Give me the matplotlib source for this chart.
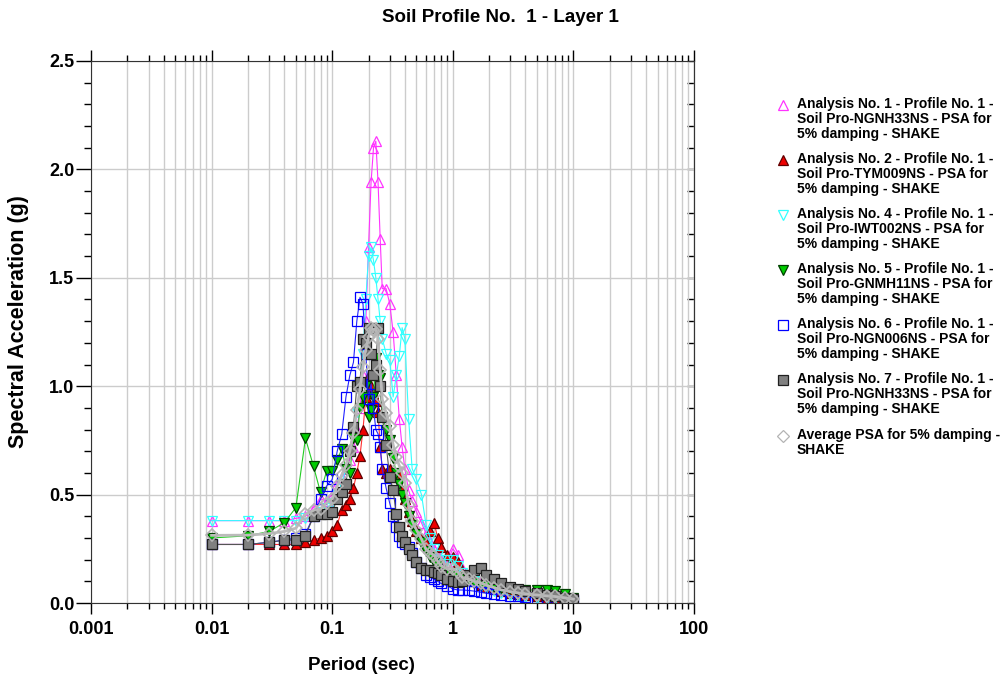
import numpy as np
import matplotlib
matplotlib.use("Agg")
import matplotlib.pyplot as plt
from matplotlib.lines import Line2D
from matplotlib.ticker import LogLocator, FixedLocator, FixedFormatter, MultipleLocator, NullFormatter

plt.rcParams["font.family"] = ["Liberation Sans", "DejaVu Sans"]

# periods (sec)
period = [0.01, 0.02, 0.03, 0.04, 0.05, 0.06, 0.07, 0.08, 0.09, 0.10,
          0.11, 0.12, 0.13, 0.14, 0.15, 0.16, 0.17, 0.18, 0.19, 0.20,
          0.21, 0.22, 0.23, 0.24, 0.25, 0.26, 0.28, 0.30, 0.32, 0.34,
          0.36, 0.38, 0.40, 0.43, 0.46, 0.50, 0.55, 0.60, 0.65, 0.70,
          0.75, 0.80, 0.90, 1.0, 1.1, 1.2, 1.35, 1.5, 1.7, 1.9,
          2.2, 2.5, 3.0, 3.5, 4.0, 5.0, 6.0, 7.0, 8.5, 10.0]

# spectral acceleration (g)
sa_an1 = [0.38, 0.38, 0.38, 0.38, 0.39, 0.40, 0.44, 0.48, 0.47, 0.50,
          0.55, 0.58, 0.62, 0.66, 0.72, 0.80, 0.90, 1.05, 1.30, 1.64,
          1.94, 2.10, 2.13, 1.94, 1.68, 1.45, 1.45, 1.38, 1.25, 1.05,
          0.85, 0.72, 0.62, 0.52, 0.47, 0.42, 0.37, 0.32, 0.28, 0.25,
          0.22, 0.20, 0.19, 0.25, 0.22, 0.16, 0.13, 0.11, 0.10, 0.09,
          0.08, 0.07, 0.06, 0.05, 0.045, 0.04, 0.035, 0.03, 0.025, 0.02]
sa_an2 = [0.27, 0.27, 0.27, 0.27, 0.27, 0.28, 0.29, 0.30, 0.31, 0.33,
          0.36, 0.43, 0.45, 0.48, 0.53, 0.60, 0.68, 0.80, 0.95, 1.05,
          1.00, 0.97, 0.93, 0.88, 0.72, 0.62, 0.60, 0.62, 0.60, 0.58,
          0.60, 0.52, 0.48, 0.42, 0.38, 0.33, 0.30, 0.28, 0.33, 0.37,
          0.30, 0.26, 0.22, 0.21, 0.19, 0.14, 0.12, 0.10, 0.085, 0.075,
          0.065, 0.055, 0.045, 0.04, 0.035, 0.03, 0.025, 0.022, 0.018, 0.015]
sa_an4 = [0.38, 0.38, 0.38, 0.38, 0.38, 0.39, 0.40, 0.42, 0.44, 0.46,
          0.50, 0.55, 0.62, 0.70, 0.78, 0.88, 1.00, 1.15, 1.40, 1.60,
          1.64, 1.58, 1.50, 1.40, 1.30, 1.22, 1.15, 1.12, 0.95, 1.05,
          1.14, 1.27, 1.22, 0.85, 0.62, 0.57, 0.50, 0.36, 0.30, 0.25,
          0.22, 0.20, 0.20, 0.20, 0.17, 0.14, 0.12, 0.10, 0.08, 0.07,
          0.055, 0.045, 0.035, 0.03, 0.027, 0.022, 0.02, 0.018, 0.015, 0.012]
sa_an5 = [0.30, 0.31, 0.33, 0.37, 0.44, 0.76, 0.63, 0.51, 0.61, 0.61,
          0.66, 0.71, 0.62, 0.60, 0.76, 0.75, 0.90, 0.95, 1.00, 0.86,
          0.89, 0.95, 1.13, 1.05, 1.04, 0.86, 0.80, 0.75, 0.67, 0.60,
          0.55, 0.50, 0.46, 0.40, 0.36, 0.32, 0.28, 0.24, 0.21, 0.19,
          0.17, 0.15, 0.14, 0.13, 0.12, 0.11, 0.10, 0.09, 0.085, 0.08,
          0.075, 0.07, 0.065, 0.062, 0.06, 0.06, 0.058, 0.055, 0.04, 0.025]
sa_an6 = [0.27, 0.27, 0.28, 0.29, 0.30, 0.32, 0.40, 0.48, 0.54, 0.57,
          0.70, 0.78, 0.95, 1.05, 1.11, 1.30, 1.41, 1.38, 1.15, 0.94,
          1.01, 0.90, 0.80, 0.78, 0.72, 0.62, 0.53, 0.46, 0.40, 0.35,
          0.31, 0.28, 0.27, 0.26, 0.23, 0.19, 0.16, 0.13, 0.12, 0.11,
          0.10, 0.09, 0.08, 0.065, 0.06, 0.06, 0.058, 0.055, 0.05, 0.045,
          0.04, 0.037, 0.033, 0.03, 0.028, 0.025, 0.022, 0.02, 0.018, 0.015]
sa_an7 = [0.27, 0.27, 0.28, 0.29, 0.29, 0.31, 0.40, 0.41, 0.41, 0.42,
          0.48, 0.51, 0.55, 0.70, 0.81, 1.00, 1.02, 1.22, 1.20, 1.27,
          1.15, 1.05, 1.10, 1.27, 1.00, 0.86, 0.73, 0.58, 0.52, 0.41,
          0.35, 0.31, 0.28, 0.25, 0.22, 0.19, 0.16, 0.15, 0.15, 0.145,
          0.14, 0.13, 0.11, 0.10, 0.095, 0.10, 0.13, 0.15, 0.16, 0.13,
          0.11, 0.09, 0.075, 0.065, 0.055, 0.045, 0.038, 0.032, 0.025, 0.02]
sa_avg = [0.312, 0.313, 0.32, 0.33, 0.345, 0.41, 0.427, 0.433, 0.463, 0.48,
          0.54, 0.59, 0.635, 0.70, 0.785, 0.89, 0.985, 1.09, 1.167, 1.227,
          1.27, 1.26, 1.265, 1.22, 1.077, 0.94, 0.877, 0.818, 0.73, 0.673,
          0.633, 0.60, 0.555, 0.45, 0.38, 0.337, 0.295, 0.247, 0.232, 0.219,
          0.192, 0.172, 0.157, 0.159, 0.143, 0.118, 0.11, 0.10, 0.093, 0.082,
          0.071, 0.061, 0.052, 0.046, 0.042, 0.037, 0.033, 0.03, 0.024, 0.018]

labels = [
    "Analysis No. 1 - Profile No. 1 -\nSoil Pro-NGNH33NS - PSA for\n5% damping - SHAKE",
    "Analysis No. 2 - Profile No. 1 -\nSoil Pro-TYM009NS - PSA for\n5% damping - SHAKE",
    "Analysis No. 4 - Profile No. 1 -\nSoil Pro-IWT002NS - PSA for\n5% damping - SHAKE",
    "Analysis No. 5 - Profile No. 1 -\nSoil Pro-GNMH11NS - PSA for\n5% damping - SHAKE",
    "Analysis No. 6 - Profile No. 1 -\nSoil Pro-NGN006NS - PSA for\n5% damping - SHAKE",
    "Analysis No. 7 - Profile No. 1 -\nSoil Pro-NGNH33NS - PSA for\n5% damping - SHAKE",
    "Average PSA for 5% damping -\nSHAKE",
]

# (data, line colour, marker, face, edge)
series = [
    (sa_an1, "#ff33ff", "^", "none", "#ff33ff"),
    (sa_an2, "#ff3030", "^", "#ee0000", "#600000"),
    (sa_an4, "#33ffff", "v", "none", "#33ffff"),
    (sa_an5, "#22cc22", "v", "#00cc00", "#004000"),
    (sa_an6, "#2222ff", "s", "none", "#0000ff"),
    (sa_an7, "#555555", "s", "#808080", "#202020"),
    (sa_avg, "#bbbbbb", "D", "none", "#b4b4b4"),
]

W, H = 1006, 680
fig = plt.figure(figsize=(W / 100, H / 100), dpi=100)
ax = fig.add_axes([91 / W, 1 - 603 / H, 603 / W, 542 / H])

for vals, lc, mk, fc, ec in series:
    if mk == "D":
        ax.plot(period, vals, color=lc, lw=2.0, marker=mk, ms=6,
                mfc=fc, mec=ec, mew=1.2)
    else:
        ax.plot(period, vals, color=lc, lw=0.8, marker=mk, ms=7,
                mfc=fc, mec=ec, mew=0.9)

ax.set_xscale("log")
ax.set_xlim(0.001, 100)
ax.set_ylim(0, 2.5)

ax.xaxis.set_major_locator(FixedLocator([0.001, 0.01, 0.1, 1, 10, 100]))
ax.xaxis.set_major_formatter(FixedFormatter(["0.001", "0.01", "0.1", "1", "10", "100"]))
ax.xaxis.set_minor_locator(LogLocator(base=10, subs=np.arange(2, 10), numticks=20))
ax.xaxis.set_minor_formatter(NullFormatter())
ax.yaxis.set_major_locator(MultipleLocator(0.5))
ax.yaxis.set_minor_locator(MultipleLocator(0.1))
ax.yaxis.set_major_formatter(matplotlib.ticker.FormatStrFormatter("%.1f"))

ax.grid(True, which="both", axis="x", color="#cccccc", lw=1.0)
ax.grid(True, which="major", axis="y", color="#cccccc", lw=1.0)
ax.set_axisbelow(True)

ax.tick_params(axis="x", which="major", direction="out", length=8, width=1,
               top=True, labelsize=13, pad=5)
ax.tick_params(axis="x", which="minor", direction="out", length=4, width=1, top=True)
ax.tick_params(axis="y", which="major", direction="out", length=11, width=1,
               right=False, labelsize=13, pad=1)
ax.tick_params(axis="y", which="minor", direction="out", length=5, width=1, right=False)
for lab in ax.get_xticklabels() + ax.get_yticklabels():
    lab.set_fontweight("bold")

# right side inward ticks
ax_r = ax.secondary_yaxis("right")
ax_r.yaxis.set_major_locator(MultipleLocator(0.1))
ax_r.tick_params(direction="in", length=5, width=1, labelright=False)

for sp in ax.spines.values():
    sp.set_color("#333333")
ax_r.spines["right"].set_color("#333333")

fig.text(500 / W, 1 - 18 / H, "Soil Profile No.  1 - Layer 1",
         ha="center", va="center", fontsize=13.5, fontweight="bold")
fig.text(361 / W, 1 - 665 / H, "Period (sec)", ha="center", va="center",
         fontsize=13.5, fontweight="bold")
fig.text(19 / W, 1 - 322 / H, "Spectral Acceleration (g)", ha="center",
         va="center", rotation=90, fontsize=15.5, fontweight="bold")

# legend: marker beside the first line of each entry
entry_y = [105, 160, 215, 270, 325, 380, 436]
for (vals, lc, mk, fc, ec), lab, yy in zip(series, labels, entry_y):
    fig.add_artist(Line2D([783 / W], [1 - yy / H], ls="none", marker=mk,
                          ms=6 if mk == "D" else 7, mfc=fc, mec=ec, mew=0.9,
                          transform=fig.transFigure))
    fig.text(797 / W, 1 - (yy - 8) / H, lab, ha="left", va="top",
             fontsize=10, fontweight="bold", linespacing=1.1)

fig.savefig("out.png", dpi=100, facecolor="white")
